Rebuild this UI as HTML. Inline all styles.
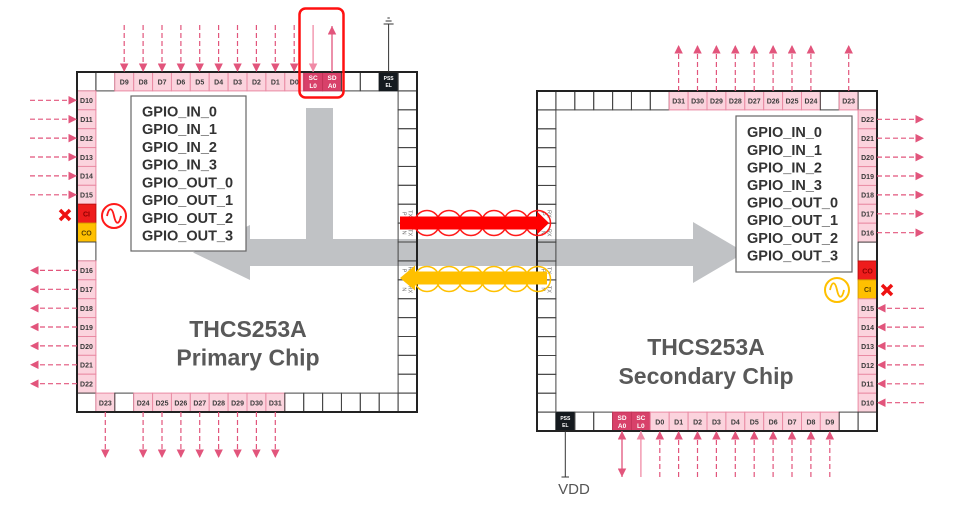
<!DOCTYPE html>
<html><head><meta charset="utf-8"><style>
html,body{margin:0;padding:0;background:#fff}
svg{display:block}
.w{fill:none;stroke:#444;stroke-width:1}
.p{fill:#fbd3dd;stroke:#e98aa3;stroke-width:1}
.s{fill:#d8416a;stroke:#c23358;stroke-width:1}
.k{fill:#151a1f;stroke:#151a1f}
.t{font:bold 7px "Liberation Sans",sans-serif;fill:#3a3a3a;text-anchor:middle}
.tw{font:bold 6.5px "Liberation Sans",sans-serif;fill:#fff;text-anchor:middle}
.tk{font:bold 5px "Liberation Sans",sans-serif;fill:#fff;text-anchor:middle}
.tr{font:5.5px "Liberation Sans",sans-serif;fill:#666;text-anchor:middle}
.d{stroke:#e2557c;stroke-width:1.2;stroke-dasharray:5 3;fill:none}
.sl{stroke:#e2557c;stroke-width:1.3;fill:none}
.sl2{stroke:#f08aa6;stroke-width:1.3;fill:none}
.g{font:bold 14.5px "Liberation Sans",sans-serif;fill:#333}
.ti{font:bold 23px "Liberation Sans",sans-serif;fill:#595959;text-anchor:middle}
</style></head><body>
<svg width="971" height="505" viewBox="0 0 971 505" xmlns="http://www.w3.org/2000/svg">
<defs>
<marker id="ah" viewBox="0 0 10 10" refX="10" refY="5" markerUnits="userSpaceOnUse" markerWidth="8.5" markerHeight="8.5" orient="auto-start-reverse"><path d="M0,0 L10,5 L0,10 z" fill="#e2557c"/></marker>
<marker id="ah2" viewBox="0 0 10 10" refX="10" refY="5" markerUnits="userSpaceOnUse" markerWidth="8.5" markerHeight="8.5" orient="auto"><path d="M0,0 L10,5 L0,10 z" fill="#f08aa6"/></marker>
</defs>
<rect width="971" height="505" fill="#fff"/>

<!-- grey arrows -->
<path d="M306,108 L333,108 L333,239 L693,239 L693,222 L745,252.5 L693,283 L693,266 L250,266 L250,280 L193,252.5 L250,225 L250,239 L306,239 Z" fill="#c0c2c5"/>

<!-- ================= PRIMARY CHIP ================= -->
<!-- top row -->
<rect class="w" x="77" y="72" width="18.9" height="18.9"/>
<rect class="w" x="95.9" y="72" width="18.9" height="18.9"/>
<g transform="translate(114.8,72)"><rect class="p" width="18.9" height="18.9"/><text class="t" x="9.45" y="12.3">D9</text></g>
<g transform="translate(133.7,72)"><rect class="p" width="18.9" height="18.9"/><text class="t" x="9.45" y="12.3">D8</text></g>
<g transform="translate(152.6,72)"><rect class="p" width="18.9" height="18.9"/><text class="t" x="9.45" y="12.3">D7</text></g>
<g transform="translate(171.4,72)"><rect class="p" width="18.9" height="18.9"/><text class="t" x="9.45" y="12.3">D6</text></g>
<g transform="translate(190.3,72)"><rect class="p" width="18.9" height="18.9"/><text class="t" x="9.45" y="12.3">D5</text></g>
<g transform="translate(209.2,72)"><rect class="p" width="18.9" height="18.9"/><text class="t" x="9.45" y="12.3">D4</text></g>
<g transform="translate(228.1,72)"><rect class="p" width="18.9" height="18.9"/><text class="t" x="9.45" y="12.3">D3</text></g>
<g transform="translate(247,72)"><rect class="p" width="18.9" height="18.9"/><text class="t" x="9.45" y="12.3">D2</text></g>
<g transform="translate(265.9,72)"><rect class="p" width="18.9" height="18.9"/><text class="t" x="9.45" y="12.3">D1</text></g>
<g transform="translate(284.8,72)"><rect class="p" width="18.9" height="18.9"/><text class="t" x="9.45" y="12.3">D0</text></g>
<g transform="translate(303.7,72)"><rect class="s" width="18.9" height="18.9"/><text class="tw" x="9.45" y="8">SC</text><text class="tw" x="9.45" y="16">L0</text></g>
<g transform="translate(322.6,72)"><rect class="s" width="18.9" height="18.9"/><text class="tw" x="9.45" y="8">SD</text><text class="tw" x="9.45" y="16">A0</text></g>
<rect class="w" x="341.4" y="72" width="18.9" height="18.9"/>
<rect class="w" x="360.3" y="72" width="18.9" height="18.9"/>
<g transform="translate(379.2,72)"><rect class="k" width="18.9" height="18.9"/><text class="tk" x="9.45" y="8">PSS</text><text class="tk" x="9.45" y="15">EL</text></g>
<rect class="w" x="398.1" y="72" width="18.9" height="18.9"/>
<!-- left column -->
<g transform="translate(77,90.9)"><rect class="p" width="18.9" height="18.9"/><text class="t" x="9.45" y="12.3">D10</text></g>
<g transform="translate(77,109.8)"><rect class="p" width="18.9" height="18.9"/><text class="t" x="9.45" y="12.3">D11</text></g>
<g transform="translate(77,128.7)"><rect class="p" width="18.9" height="18.9"/><text class="t" x="9.45" y="12.3">D12</text></g>
<g transform="translate(77,147.6)"><rect class="p" width="18.9" height="18.9"/><text class="t" x="9.45" y="12.3">D13</text></g>
<g transform="translate(77,166.4)"><rect class="p" width="18.9" height="18.9"/><text class="t" x="9.45" y="12.3">D14</text></g>
<g transform="translate(77,185.3)"><rect class="p" width="18.9" height="18.9"/><text class="t" x="9.45" y="12.3">D15</text></g>
<g transform="translate(77,204.2)"><rect width="18.9" height="18.9" fill="#ee1c1c" stroke="#c01010"/><text class="t" x="9.45" y="12.3" style="fill:#8b0000">CI</text></g>
<g transform="translate(77,223.1)"><rect width="18.9" height="18.9" fill="#ffc000" stroke="#d9a000"/><text class="t" x="9.45" y="12.3" style="fill:#5a4000">CO</text></g>
<rect class="w" x="77" y="242" width="18.9" height="18.9"/>
<g transform="translate(77,260.9)"><rect class="p" width="18.9" height="18.9"/><text class="t" x="9.45" y="12.3">D16</text></g>
<g transform="translate(77,279.8)"><rect class="p" width="18.9" height="18.9"/><text class="t" x="9.45" y="12.3">D17</text></g>
<g transform="translate(77,298.7)"><rect class="p" width="18.9" height="18.9"/><text class="t" x="9.45" y="12.3">D18</text></g>
<g transform="translate(77,317.6)"><rect class="p" width="18.9" height="18.9"/><text class="t" x="9.45" y="12.3">D19</text></g>
<g transform="translate(77,336.5)"><rect class="p" width="18.9" height="18.9"/><text class="t" x="9.45" y="12.3">D20</text></g>
<g transform="translate(77,355.3)"><rect class="p" width="18.9" height="18.9"/><text class="t" x="9.45" y="12.3">D21</text></g>
<g transform="translate(77,374.2)"><rect class="p" width="18.9" height="18.9"/><text class="t" x="9.45" y="12.3">D22</text></g>
<!-- bottom row -->
<rect class="w" x="77" y="393.1" width="18.9" height="18.9"/>
<g transform="translate(95.9,393.1)"><rect class="p" width="18.9" height="18.9"/><text class="t" x="9.45" y="12.3">D23</text></g>
<rect class="w" x="114.8" y="393.1" width="18.9" height="18.9"/>
<g transform="translate(133.7,393.1)"><rect class="p" width="18.9" height="18.9"/><text class="t" x="9.45" y="12.3">D24</text></g>
<g transform="translate(152.6,393.1)"><rect class="p" width="18.9" height="18.9"/><text class="t" x="9.45" y="12.3">D25</text></g>
<g transform="translate(171.4,393.1)"><rect class="p" width="18.9" height="18.9"/><text class="t" x="9.45" y="12.3">D26</text></g>
<g transform="translate(190.3,393.1)"><rect class="p" width="18.9" height="18.9"/><text class="t" x="9.45" y="12.3">D27</text></g>
<g transform="translate(209.2,393.1)"><rect class="p" width="18.9" height="18.9"/><text class="t" x="9.45" y="12.3">D28</text></g>
<g transform="translate(228.1,393.1)"><rect class="p" width="18.9" height="18.9"/><text class="t" x="9.45" y="12.3">D29</text></g>
<g transform="translate(247,393.1)"><rect class="p" width="18.9" height="18.9"/><text class="t" x="9.45" y="12.3">D30</text></g>
<g transform="translate(265.9,393.1)"><rect class="p" width="18.9" height="18.9"/><text class="t" x="9.45" y="12.3">D31</text></g>
<rect class="w" x="284.8" y="393.1" width="18.9" height="18.9"/>
<rect class="w" x="303.7" y="393.1" width="18.9" height="18.9"/>
<rect class="w" x="322.6" y="393.1" width="18.9" height="18.9"/>
<rect class="w" x="341.4" y="393.1" width="18.9" height="18.9"/>
<rect class="w" x="360.3" y="393.1" width="18.9" height="18.9"/>
<rect class="w" x="379.2" y="393.1" width="18.9" height="18.9"/>
<rect class="w" x="398.1" y="393.1" width="18.9" height="18.9"/>
<!-- right column -->
<rect class="w" x="398.1" y="90.9" width="18.9" height="18.9"/>
<rect class="w" x="398.1" y="109.8" width="18.9" height="18.9"/>
<rect class="w" x="398.1" y="128.7" width="18.9" height="18.9"/>
<rect class="w" x="398.1" y="147.6" width="18.9" height="18.9"/>
<rect class="w" x="398.1" y="166.4" width="18.9" height="18.9"/>
<rect class="w" x="398.1" y="185.3" width="18.9" height="18.9"/>
<rect class="w" x="398.1" y="204.2" width="18.9" height="18.9"/>
<rect class="w" x="398.1" y="223.1" width="18.9" height="18.9"/>
<rect class="w" x="398.1" y="242" width="18.9" height="18.9"/>
<rect class="w" x="398.1" y="260.9" width="18.9" height="18.9"/>
<rect class="w" x="398.1" y="279.8" width="18.9" height="18.9"/>
<rect class="w" x="398.1" y="298.7" width="18.9" height="18.9"/>
<rect class="w" x="398.1" y="317.6" width="18.9" height="18.9"/>
<rect class="w" x="398.1" y="336.5" width="18.9" height="18.9"/>
<rect class="w" x="398.1" y="355.3" width="18.9" height="18.9"/>
<rect class="w" x="398.1" y="374.2" width="18.9" height="18.9"/>
<text class="tr" transform="translate(407.5,213.7) rotate(90)"><tspan x="0" y="-1">TX</tspan><tspan x="0" y="5">P</tspan></text>
<text class="tr" transform="translate(407.5,232.6) rotate(90)"><tspan x="0" y="-1">TX</tspan><tspan x="0" y="5">N</tspan></text>
<text class="tr" transform="translate(407.5,270.4) rotate(90)"><tspan x="0" y="-1">RX</tspan><tspan x="0" y="5">P</tspan></text>
<text class="tr" transform="translate(407.5,289.3) rotate(90)"><tspan x="0" y="-1">RX</tspan><tspan x="0" y="5">N</tspan></text>
<rect x="77" y="72" width="340" height="340" fill="none" stroke="#222" stroke-width="2"/>

<!-- ================= SECONDARY CHIP ================= -->
<!-- top row -->
<rect class="w" x="537" y="91" width="18.9" height="18.9"/>
<rect class="w" x="555.9" y="91" width="18.9" height="18.9"/>
<rect class="w" x="574.8" y="91" width="18.9" height="18.9"/>
<rect class="w" x="593.7" y="91" width="18.9" height="18.9"/>
<rect class="w" x="612.6" y="91" width="18.9" height="18.9"/>
<rect class="w" x="631.4" y="91" width="18.9" height="18.9"/>
<rect class="w" x="650.3" y="91" width="18.9" height="18.9"/>
<g transform="translate(669.2,91)"><rect class="p" width="18.9" height="18.9"/><text class="t" x="9.45" y="12.3">D31</text></g>
<g transform="translate(688.1,91)"><rect class="p" width="18.9" height="18.9"/><text class="t" x="9.45" y="12.3">D30</text></g>
<g transform="translate(707,91)"><rect class="p" width="18.9" height="18.9"/><text class="t" x="9.45" y="12.3">D29</text></g>
<g transform="translate(725.9,91)"><rect class="p" width="18.9" height="18.9"/><text class="t" x="9.45" y="12.3">D28</text></g>
<g transform="translate(744.8,91)"><rect class="p" width="18.9" height="18.9"/><text class="t" x="9.45" y="12.3">D27</text></g>
<g transform="translate(763.7,91)"><rect class="p" width="18.9" height="18.9"/><text class="t" x="9.45" y="12.3">D26</text></g>
<g transform="translate(782.6,91)"><rect class="p" width="18.9" height="18.9"/><text class="t" x="9.45" y="12.3">D25</text></g>
<g transform="translate(801.5,91)"><rect class="p" width="18.9" height="18.9"/><text class="t" x="9.45" y="12.3">D24</text></g>
<rect class="w" x="820.3" y="91" width="18.9" height="18.9"/>
<g transform="translate(839.2,91)"><rect class="p" width="18.9" height="18.9"/><text class="t" x="9.45" y="12.3">D23</text></g>
<rect class="w" x="858.1" y="91" width="18.9" height="18.9"/>
<!-- right column -->
<g transform="translate(858.1,109.9)"><rect class="p" width="18.9" height="18.9"/><text class="t" x="9.45" y="12.3">D22</text></g>
<g transform="translate(858.1,128.8)"><rect class="p" width="18.9" height="18.9"/><text class="t" x="9.45" y="12.3">D21</text></g>
<g transform="translate(858.1,147.7)"><rect class="p" width="18.9" height="18.9"/><text class="t" x="9.45" y="12.3">D20</text></g>
<g transform="translate(858.1,166.6)"><rect class="p" width="18.9" height="18.9"/><text class="t" x="9.45" y="12.3">D19</text></g>
<g transform="translate(858.1,185.4)"><rect class="p" width="18.9" height="18.9"/><text class="t" x="9.45" y="12.3">D18</text></g>
<g transform="translate(858.1,204.3)"><rect class="p" width="18.9" height="18.9"/><text class="t" x="9.45" y="12.3">D17</text></g>
<g transform="translate(858.1,223.2)"><rect class="p" width="18.9" height="18.9"/><text class="t" x="9.45" y="12.3">D16</text></g>
<rect class="w" x="858.1" y="242.1" width="18.9" height="18.9"/>
<g transform="translate(858.1,261)"><rect width="18.9" height="18.9" fill="#ee1c1c" stroke="#c01010"/><text class="t" x="9.45" y="12.3" style="fill:#8b0000">CO</text></g>
<g transform="translate(858.1,279.9)"><rect width="18.9" height="18.9" fill="#ffc000" stroke="#d9a000"/><text class="t" x="9.45" y="12.3" style="fill:#5a4000">CI</text></g>
<g transform="translate(858.1,298.8)"><rect class="p" width="18.9" height="18.9"/><text class="t" x="9.45" y="12.3">D15</text></g>
<g transform="translate(858.1,317.7)"><rect class="p" width="18.9" height="18.9"/><text class="t" x="9.45" y="12.3">D14</text></g>
<g transform="translate(858.1,336.6)"><rect class="p" width="18.9" height="18.9"/><text class="t" x="9.45" y="12.3">D13</text></g>
<g transform="translate(858.1,355.5)"><rect class="p" width="18.9" height="18.9"/><text class="t" x="9.45" y="12.3">D12</text></g>
<g transform="translate(858.1,374.3)"><rect class="p" width="18.9" height="18.9"/><text class="t" x="9.45" y="12.3">D11</text></g>
<g transform="translate(858.1,393.2)"><rect class="p" width="18.9" height="18.9"/><text class="t" x="9.45" y="12.3">D10</text></g>
<!-- bottom row -->
<rect class="w" x="537" y="412.1" width="18.9" height="18.9"/>
<g transform="translate(555.9,412.1)"><rect class="k" width="18.9" height="18.9"/><text class="tk" x="9.45" y="8">PSS</text><text class="tk" x="9.45" y="15">EL</text></g>
<rect class="w" x="574.8" y="412.1" width="18.9" height="18.9"/>
<rect class="w" x="593.7" y="412.1" width="18.9" height="18.9"/>
<g transform="translate(612.6,412.1)"><rect class="s" width="18.9" height="18.9"/><text class="tw" x="9.45" y="8">SD</text><text class="tw" x="9.45" y="16">A0</text></g>
<g transform="translate(631.4,412.1)"><rect class="s" width="18.9" height="18.9"/><text class="tw" x="9.45" y="8">SC</text><text class="tw" x="9.45" y="16">L0</text></g>
<g transform="translate(650.3,412.1)"><rect class="p" width="18.9" height="18.9"/><text class="t" x="9.45" y="12.3">D0</text></g>
<g transform="translate(669.2,412.1)"><rect class="p" width="18.9" height="18.9"/><text class="t" x="9.45" y="12.3">D1</text></g>
<g transform="translate(688.1,412.1)"><rect class="p" width="18.9" height="18.9"/><text class="t" x="9.45" y="12.3">D2</text></g>
<g transform="translate(707,412.1)"><rect class="p" width="18.9" height="18.9"/><text class="t" x="9.45" y="12.3">D3</text></g>
<g transform="translate(725.9,412.1)"><rect class="p" width="18.9" height="18.9"/><text class="t" x="9.45" y="12.3">D4</text></g>
<g transform="translate(744.8,412.1)"><rect class="p" width="18.9" height="18.9"/><text class="t" x="9.45" y="12.3">D5</text></g>
<g transform="translate(763.7,412.1)"><rect class="p" width="18.9" height="18.9"/><text class="t" x="9.45" y="12.3">D6</text></g>
<g transform="translate(782.6,412.1)"><rect class="p" width="18.9" height="18.9"/><text class="t" x="9.45" y="12.3">D7</text></g>
<g transform="translate(801.5,412.1)"><rect class="p" width="18.9" height="18.9"/><text class="t" x="9.45" y="12.3">D8</text></g>
<g transform="translate(820.3,412.1)"><rect class="p" width="18.9" height="18.9"/><text class="t" x="9.45" y="12.3">D9</text></g>
<rect class="w" x="839.2" y="412.1" width="18.9" height="18.9"/>
<rect class="w" x="858.1" y="412.1" width="18.9" height="18.9"/>
<!-- left column -->
<rect class="w" x="537" y="109.9" width="18.9" height="18.9"/>
<rect class="w" x="537" y="128.8" width="18.9" height="18.9"/>
<rect class="w" x="537" y="147.7" width="18.9" height="18.9"/>
<rect class="w" x="537" y="166.6" width="18.9" height="18.9"/>
<rect class="w" x="537" y="185.4" width="18.9" height="18.9"/>
<rect class="w" x="537" y="204.3" width="18.9" height="18.9"/>
<rect class="w" x="537" y="223.2" width="18.9" height="18.9"/>
<rect class="w" x="537" y="242.1" width="18.9" height="18.9"/>
<rect class="w" x="537" y="261" width="18.9" height="18.9"/>
<rect class="w" x="537" y="279.9" width="18.9" height="18.9"/>
<rect class="w" x="537" y="298.8" width="18.9" height="18.9"/>
<rect class="w" x="537" y="317.7" width="18.9" height="18.9"/>
<rect class="w" x="537" y="336.6" width="18.9" height="18.9"/>
<rect class="w" x="537" y="355.5" width="18.9" height="18.9"/>
<rect class="w" x="537" y="374.3" width="18.9" height="18.9"/>
<rect class="w" x="537" y="393.2" width="18.9" height="18.9"/>
<text class="tr" transform="translate(546.4,213.8) rotate(90)"><tspan x="0" y="-1">RX</tspan><tspan x="0" y="5">P</tspan></text>
<text class="tr" transform="translate(546.4,232.7) rotate(90)"><tspan x="0" y="-1">RX</tspan><tspan x="0" y="5">N</tspan></text>
<text class="tr" transform="translate(546.4,270.5) rotate(90)"><tspan x="0" y="-1">TX</tspan><tspan x="0" y="5">P</tspan></text>
<text class="tr" transform="translate(546.4,289.4) rotate(90)"><tspan x="0" y="-1">TX</tspan><tspan x="0" y="5">N</tspan></text>
<rect x="537" y="91" width="340" height="340" fill="none" stroke="#222" stroke-width="2"/>

<!-- GPIO boxes -->
<rect x="131" y="96" width="115" height="155" fill="#fff" stroke="#666" stroke-width="1.2"/>
<text class="g" x="142" y="116.3">GPIO_IN_0</text>
<text class="g" x="142" y="134">GPIO_IN_1</text>
<text class="g" x="142" y="151.8">GPIO_IN_2</text>
<text class="g" x="142" y="169.6">GPIO_IN_3</text>
<text class="g" x="142" y="187.3">GPIO_OUT_0</text>
<text class="g" x="142" y="205.1">GPIO_OUT_1</text>
<text class="g" x="142" y="222.9">GPIO_OUT_2</text>
<text class="g" x="142" y="240.6">GPIO_OUT_3</text>

<rect x="736" y="116" width="116" height="156" fill="#fff" stroke="#666" stroke-width="1.2"/>
<text class="g" x="747" y="137.2">GPIO_IN_0</text>
<text class="g" x="747" y="154.8">GPIO_IN_1</text>
<text class="g" x="747" y="172.4">GPIO_IN_2</text>
<text class="g" x="747" y="190">GPIO_IN_3</text>
<text class="g" x="747" y="207.6">GPIO_OUT_0</text>
<text class="g" x="747" y="225.2">GPIO_OUT_1</text>
<text class="g" x="747" y="242.8">GPIO_OUT_2</text>
<text class="g" x="747" y="260.4">GPIO_OUT_3</text>

<!-- titles -->
<text class="ti" x="248" y="337">THCS253A</text>
<text class="ti" x="248" y="365.5">Primary Chip</text>
<text class="ti" x="706" y="355">THCS253A</text>
<text class="ti" x="706" y="384">Secondary Chip</text>

<!-- red / yellow link arrows -->
<g fill="none" stroke="#ff1a1a" stroke-width="1.5">
<circle cx="427" cy="223" r="12.5"/><circle cx="449" cy="223" r="12.5"/><circle cx="471" cy="223" r="12.5"/>
<circle cx="494" cy="223" r="12.5"/><circle cx="516" cy="223" r="12.5"/><circle cx="538" cy="223" r="12.5"/>
</g>
<path d="M400,216.5 L537,216.5 L537,211.5 L549,223 L537,234.5 L537,229.5 L400,229.5 Z" fill="#ff0000"/>
<g fill="none" stroke="#ffc000" stroke-width="1.5">
<circle cx="427" cy="279" r="12.5"/><circle cx="449" cy="279" r="12.5"/><circle cx="471" cy="279" r="12.5"/>
<circle cx="494" cy="279" r="12.5"/><circle cx="516" cy="279" r="12.5"/><circle cx="538" cy="279" r="12.5"/>
</g>
<path d="M547,271.5 L415,271.5 L415,265.5 L400,278 L415,290.5 L415,284.5 L547,284.5 Z" fill="#ffc000"/>

<!-- clock symbols / X marks -->
<circle cx="114" cy="216" r="12" fill="none" stroke="#ff1a1a" stroke-width="2"/>
<path d="M107,216 C109,207 112,207 114,216 S119,225 121,216" fill="none" stroke="#ff1a1a" stroke-width="1.8"/>
<path d="M60,210 L70,220 M70,210 L60,220" stroke="#ee1111" stroke-width="3.5"/>
<circle cx="837" cy="290" r="12" fill="none" stroke="#ffc000" stroke-width="2"/>
<path d="M830,290 C832,281 835,281 837,290 S842,299 844,290" fill="none" stroke="#ffc000" stroke-width="1.8"/>
<path d="M882,285 L892,295 M892,285 L882,295" stroke="#ee1111" stroke-width="3.5"/>

<!-- primary pin arrows -->
<g class="d" marker-end="url(#ah)">
<line x1="124.2" y1="25" x2="124.2" y2="72"/><line x1="143.1" y1="25" x2="143.1" y2="72"/>
<line x1="162" y1="25" x2="162" y2="72"/><line x1="180.9" y1="25" x2="180.9" y2="72"/>
<line x1="199.7" y1="25" x2="199.7" y2="72"/><line x1="218.6" y1="25" x2="218.6" y2="72"/>
<line x1="237.5" y1="25" x2="237.5" y2="72"/><line x1="256.4" y1="25" x2="256.4" y2="72"/>
<line x1="275.3" y1="25" x2="275.3" y2="72"/><line x1="294.2" y1="25" x2="294.2" y2="72"/>
<line x1="30" y1="100.3" x2="77" y2="100.3"/><line x1="30" y1="119.2" x2="77" y2="119.2"/>
<line x1="30" y1="138.1" x2="77" y2="138.1"/><line x1="30" y1="157" x2="77" y2="157"/>
<line x1="30" y1="175.9" x2="77" y2="175.9"/><line x1="30" y1="194.8" x2="77" y2="194.8"/>
<line x1="77" y1="270.4" x2="30" y2="270.4"/><line x1="77" y1="289.3" x2="30" y2="289.3"/>
<line x1="77" y1="308.2" x2="30" y2="308.2"/><line x1="77" y1="327" x2="30" y2="327"/>
<line x1="77" y1="345.9" x2="30" y2="345.9"/><line x1="77" y1="364.8" x2="30" y2="364.8"/>
<line x1="77" y1="383.7" x2="30" y2="383.7"/>
<line x1="105.3" y1="412" x2="105.3" y2="458"/>
<line x1="143.1" y1="412" x2="143.1" y2="458"/><line x1="162" y1="412" x2="162" y2="458"/>
<line x1="180.9" y1="412" x2="180.9" y2="458"/><line x1="199.7" y1="412" x2="199.7" y2="458"/>
<line x1="218.6" y1="412" x2="218.6" y2="458"/><line x1="237.5" y1="412" x2="237.5" y2="458"/>
<line x1="256.4" y1="412" x2="256.4" y2="458"/><line x1="275.3" y1="412" x2="275.3" y2="458"/>
</g>
<line class="sl2" x1="313.1" y1="25" x2="313.1" y2="72" marker-end="url(#ah2)"/>
<line class="sl" x1="332" y1="72" x2="332" y2="26" marker-end="url(#ah)"/>
<g stroke="#333" stroke-width="1">
<line x1="388.6" y1="24" x2="388.6" y2="72"/>
<line x1="383.6" y1="24" x2="393.6" y2="24"/>
<line x1="385.6" y1="21" x2="391.6" y2="21"/>
<line x1="387.4" y1="18" x2="389.8" y2="18"/>
</g>
<rect x="299.5" y="8.5" width="44" height="89" rx="6" fill="none" stroke="#ff1010" stroke-width="2.5"/>

<!-- secondary pin arrows -->
<g class="d" marker-end="url(#ah)">
<line x1="678.6" y1="91" x2="678.6" y2="45"/><line x1="697.5" y1="91" x2="697.5" y2="45"/>
<line x1="716.4" y1="91" x2="716.4" y2="45"/><line x1="735.3" y1="91" x2="735.3" y2="45"/>
<line x1="754.2" y1="91" x2="754.2" y2="45"/><line x1="773.1" y1="91" x2="773.1" y2="45"/>
<line x1="792" y1="91" x2="792" y2="45"/><line x1="810.9" y1="91" x2="810.9" y2="45"/>
<line x1="848.7" y1="91" x2="848.7" y2="45"/>
<line x1="877" y1="119.3" x2="924" y2="119.3"/><line x1="877" y1="138.2" x2="924" y2="138.2"/>
<line x1="877" y1="157.1" x2="924" y2="157.1"/><line x1="877" y1="176" x2="924" y2="176"/>
<line x1="877" y1="194.9" x2="924" y2="194.9"/><line x1="877" y1="213.8" x2="924" y2="213.8"/>
<line x1="877" y1="232.7" x2="924" y2="232.7"/>
<line x1="924" y1="308.3" x2="877" y2="308.3"/><line x1="924" y1="327.1" x2="877" y2="327.1"/>
<line x1="924" y1="346" x2="877" y2="346"/><line x1="924" y1="364.9" x2="877" y2="364.9"/>
<line x1="924" y1="383.8" x2="877" y2="383.8"/><line x1="924" y1="402.7" x2="877" y2="402.7"/>
<line x1="659.8" y1="477" x2="659.8" y2="431"/><line x1="678.6" y1="477" x2="678.6" y2="431"/>
<line x1="697.5" y1="477" x2="697.5" y2="431"/><line x1="716.4" y1="477" x2="716.4" y2="431"/>
<line x1="735.3" y1="477" x2="735.3" y2="431"/><line x1="754.2" y1="477" x2="754.2" y2="431"/>
<line x1="773.1" y1="477" x2="773.1" y2="431"/><line x1="792" y1="477" x2="792" y2="431"/>
<line x1="810.9" y1="477" x2="810.9" y2="431"/><line x1="829.8" y1="477" x2="829.8" y2="431"/>
</g>
<line class="sl" x1="622" y1="431" x2="622" y2="477" marker-start="url(#ah)" marker-end="url(#ah)"/>
<line class="sl2" x1="640.9" y1="477" x2="640.9" y2="431" marker-end="url(#ah2)"/>
<g stroke="#333" stroke-width="1">
<line x1="565.3" y1="431" x2="565.3" y2="477"/>
<line x1="561.5" y1="477" x2="569" y2="477"/>
</g>
<text x="574" y="494" text-anchor="middle" style="font:15px 'Liberation Sans',sans-serif;fill:#555">VDD</text>
</svg>
</body></html>
